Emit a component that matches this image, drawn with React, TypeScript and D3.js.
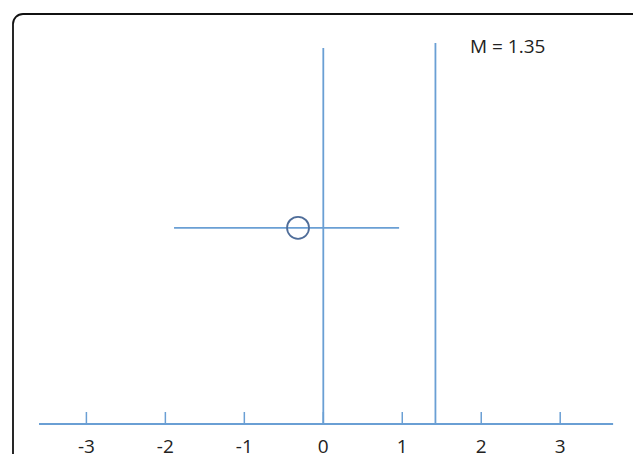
import React, { useRef, useEffect } from 'react';
import * as d3 from 'd3';

// x axis ticks
const tickValues = [-3, -2, -1, 0, 1, 2, 3];
// estimate: point and its interval
const pointValue = -0.32;
const intervalLow = -1.89;
const intervalHigh = 0.96;
const pointLevel = 0.515;
// vertical reference lines: [x value, top level]
const refLines: [number, number][] = [
	[0, 0.987],
	[1.42, 1.0],
];
const markerLabel = 'M = 1.35';

const W = 633;
const H = 454;

function App() {
	const svgRef = useRef<SVGSVGElement>(null);

	useEffect(() => {
		document.body.style.margin = '0';
		const svg = d3.select(svgRef.current);
		svg.selectAll('*').remove();

		const x = d3.scaleLinear().domain([-3, 3]).range([86.4, 560.2]);
		const y = d3.scaleLinear().domain([0, 1]).range([424, 43]);
		const blue = '#6a9fd4';

		// frame
		svg
			.append('rect')
			.attr('x', 13)
			.attr('y', 14)
			.attr('width', 640)
			.attr('height', 460)
			.attr('rx', 10)
			.attr('fill', '#fff')
			.attr('stroke', '#111')
			.attr('stroke-width', 1.8);

		// axis baseline
		svg
			.append('line')
			.attr('x1', x(-3.6))
			.attr('x2', x(3.67))
			.attr('y1', y(0))
			.attr('y2', y(0))
			.attr('stroke', blue)
			.attr('stroke-width', 1.8);

		svg
			.selectAll('.tick')
			.data(tickValues)
			.join('line')
			.attr('class', 'tick')
			.attr('x1', (d) => x(d))
			.attr('x2', (d) => x(d))
			.attr('y1', y(0))
			.attr('y2', y(0) - 12)
			.attr('stroke', blue)
			.attr('stroke-width', 1.5);

		svg
			.selectAll('.tlabel')
			.data(tickValues)
			.join('text')
			.attr('class', 'tlabel')
			.attr('x', (d) => x(d))
			.attr('y', 453)
			.attr('text-anchor', 'middle')
			.attr('font-family', 'Open Sans, sans-serif')
			.attr('font-size', 19)
			.attr('fill', '#222')
			.text((d) => String(d));

		// vertical reference lines
		svg
			.selectAll('.ref')
			.data(refLines)
			.join('line')
			.attr('class', 'ref')
			.attr('x1', (d) => x(d[0]))
			.attr('x2', (d) => x(d[0]))
			.attr('y1', y(0))
			.attr('y2', (d) => y(d[1]))
			.attr('stroke', blue)
			.attr('stroke-width', 1.8);

		// interval
		svg
			.append('line')
			.attr('x1', x(intervalLow))
			.attr('x2', x(intervalHigh))
			.attr('y1', y(pointLevel))
			.attr('y2', y(pointLevel))
			.attr('stroke', blue)
			.attr('stroke-width', 1.8);

		svg
			.append('circle')
			.attr('cx', x(pointValue))
			.attr('cy', y(pointLevel))
			.attr('r', 11)
			.attr('fill', 'none')
			.attr('stroke', '#4f6d99')
			.attr('stroke-width', 1.8);

		svg
			.append('text')
			.attr('x', 470)
			.attr('y', 53)
			.attr('font-family', 'Open Sans, sans-serif')
			.attr('font-size', 19)
			.attr('fill', '#222')
			.text(markerLabel);
	}, []);

	return <svg ref={svgRef} width={W} height={H} style={{ display: 'block' }} />;
}

export default App;
